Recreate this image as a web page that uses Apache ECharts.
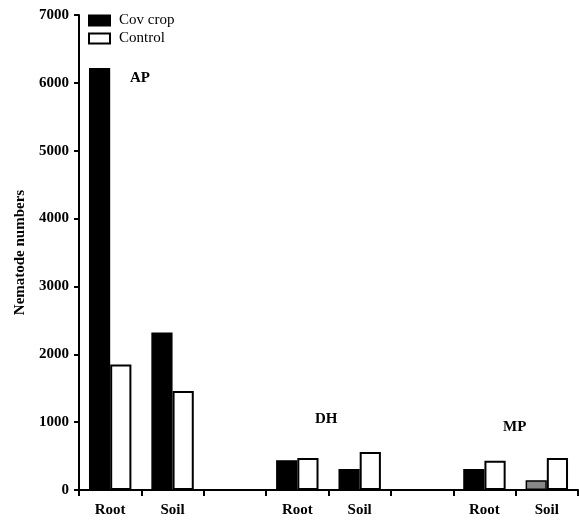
<!DOCTYPE html>
<html lang="en">
<head>
    <meta charset="UTF-8">
    <title>Nematode numbers</title>
    <script src="https://cdn.jsdelivr.net/npm/echarts@6/dist/echarts.min.js"></script>
    <style>
        body { margin: 0; background: #fff; }
        #main { width: 579px; height: 522px; }
    </style>
</head>
<body>
<div id="main"></div>
<script type="text/javascript">
    // categories: AP, DH, MP groups, blank slot between groups
    var categories = ['Root', 'Soil', '', 'Root', 'Soil', '', 'Root', 'Soil'];
    var covCrop = [6220, 2320, null, 440, 310, null, 310, 145];
    var control = [1850, 1460, null, 470, 560, null, 430, 470];
    var yTicks = [0, 1000, 2000, 3000, 4000, 5000, 6000, 7000];

    var font = 'Liberation Serif';

    var myChart = echarts.init(document.getElementById('main'));

    // last cover-crop bar (MP soil) is drawn grey
    var covData = covCrop.map(function (v, i) {
        if (i === 7) return { value: v, itemStyle: { color: '#888888', borderColor: '#000', borderWidth: 1.5 } };
        return v;
    });

    var option = {
        animation: false,
        backgroundColor: '#fff',
        grid: { left: 79, right: 1, top: 15, bottom: 32 },
        legend: {
            orient: 'vertical',
            left: 88, top: 13,
            padding: 0,
            icon: 'rect',
            itemWidth: 21, itemHeight: 10,
            itemGap: 3,
            textStyle: { fontFamily: font, fontSize: 15, color: '#000', padding: [0, 0, 0, 4] },
            data: ['Cov crop', 'Control']
        },
        xAxis: {
            type: 'category',
            data: categories,
            axisLine: { lineStyle: { color: '#000', width: 2 } },
            axisTick: { show: true, length: 6, lineStyle: { color: '#000', width: 2 } },
            axisLabel: { fontFamily: font, fontWeight: 'bold', fontSize: 15, color: '#000', margin: 13 }
        },
        yAxis: {
            type: 'value',
            min: 0, max: 7000, interval: 1000,
            name: 'Nematode numbers',
            nameLocation: 'middle',
            nameGap: 49,
            nameTextStyle: { fontFamily: font, fontSize: 15, fontWeight: 'bold', color: '#000' },
            axisLine: { show: true, lineStyle: { color: '#000', width: 2 } },
            axisTick: { show: true, length: 5, lineStyle: { color: '#000', width: 2 } },
            axisLabel: { fontFamily: font, fontWeight: 'bold', fontSize: 15, color: '#000', margin: 10,
                formatter: function (v) { return yTicks.indexOf(v) >= 0 ? String(v) : ''; } },
            splitLine: { show: false }
        },
        series: [
            {
                name: 'Cov crop',
                type: 'bar',
                data: covData,
                barGap: '0%',
                barCategoryGap: '32%',
                itemStyle: { color: '#000', borderColor: '#000', borderWidth: 1.5 }
            },
            {
                name: 'Control',
                type: 'bar',
                data: control,
                itemStyle: { color: '#fff', borderColor: '#000', borderWidth: 2 }
            }
        ],
        graphic: [
            { type: 'text', left: 130, top: 71, style: { text: 'AP', font: 'bold 15px ' + font, fill: '#000' } },
            { type: 'text', left: 315, top: 412, style: { text: 'DH', font: 'bold 15px ' + font, fill: '#000' } },
            { type: 'text', left: 503, top: 420, style: { text: 'MP', font: 'bold 15px ' + font, fill: '#000' } }
        ]
    };
    myChart.setOption(option);
</script>
</body>
</html>
